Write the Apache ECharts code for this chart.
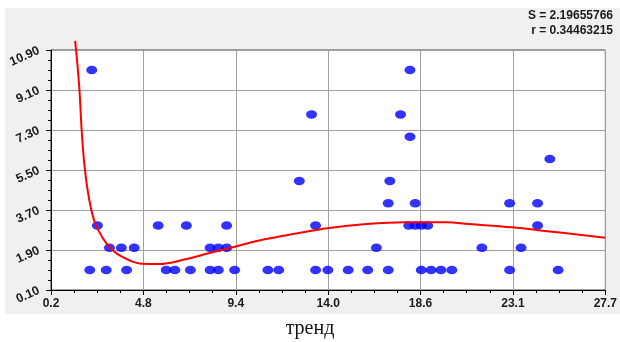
<!DOCTYPE html>
<html>
<head>
<meta charset="utf-8">
<script src="https://cdn.jsdelivr.net/npm/echarts@6/dist/echarts.min.js"></script>
<style>
  html, body { margin: 0; padding: 0; background: #ffffff; }
  #chart { width: 620px; height: 342px; }
</style>
</head>
<body>
<div id="chart"></div>
<script>
// Axis tick labels (seven evenly spaced ticks on each axis)
const xTickLabels = ['0.2', '4.8', '9.4', '14.0', '18.6', '23.1', '27.7'];
const yTickLabels = ['0.10', '1.90', '3.70', '5.50', '7.30', '9.10', '10.90'];

// Value extents spanned by those ticks
const xRange = [0.195, 27.735];
const yRange = [0.1, 10.9];

// Observations
const pointX = [2.22, 2.50, 3.10, 3.69, 4.33, 2.12, 2.94, 3.95, 5.52, 5.92,
                6.35, 6.92, 7.12, 8.10, 8.51, 8.92, 8.92, 8.10, 8.51, 9.32,
                10.97, 11.51, 12.53, 13.14, 13.34, 13.34, 13.95, 14.96, 15.93, 16.36,
                16.95, 16.95, 17.03, 17.56, 18.03, 18.03, 17.97, 18.29, 18.59, 18.91,
                18.29, 18.59, 19.08, 19.57, 20.11, 21.60, 22.98, 22.98, 23.55, 24.37,
                24.37, 24.98, 25.39];
const pointY = [10, 3, 2, 2, 2, 1, 1, 1, 3, 1,
                1, 3, 1, 2, 2, 2, 3, 1, 1, 1,
                1, 1, 5, 8, 3, 1, 1, 1, 1, 2,
                1, 4, 5, 8, 10, 7, 3, 3, 3, 3,
                4, 1, 1, 1, 1, 2, 4, 1, 2, 4,
                3, 6, 1];

// Trend curve
const curveX = [1.395, 1.591, 1.724, 1.872, 2.083, 2.363, 2.771, 3.347, 4.084, 4.738,
                5.559, 6.871, 8.017, 9.33, 10.805, 12.442, 13.917, 15.884, 17.85, 19.82,
                20.96, 23.095, 24.73, 27.73];
const curveY = [11.31, 9.33, 7.22, 5.58, 4.23, 3.17, 2.43, 1.82, 1.44, 1.28,
                1.27, 1.48, 1.75, 2.05, 2.38, 2.65, 2.88, 3.07, 3.15, 3.15,
                3.07, 2.92, 2.76, 2.45];

// Fit statistics
const statS = 'S = 2.19655766';
const statR = 'r = 0.34463215';
const xTitle = 'тренд';

const scatterData = pointX.map((x, i) => [x, pointY[i]]);
const curveData = curveX.map((x, i) => [x, curveY[i]]);

const labelFont = { fontFamily: 'Liberation Sans, Arial, sans-serif', fontWeight: 'bold', color: '#1a1a1a' };
const gridColor = '#a0a0a0';

const chart = echarts.init(document.getElementById('chart'), null, { renderer: 'canvas' });

chart.setOption({
  animation: false,
  backgroundColor: '#ffffff',
  grid: {
    left: 51, right: 9, top: 50, bottom: 52,
    show: true,
    backgroundColor: '#ffffff',
    borderColor: '#444444',
    borderWidth: 1
  },
  graphic: [
    {
      type: 'rect', z: -10, silent: true,
      shape: { x: 5, y: 8, width: 615, height: 306 },
      style: { fill: '#f0f0f0' }
    },
    {
      type: 'text', z: 10, right: 7, top: 10,
      style: { text: statS, font: 'bold 12px "Liberation Sans", Arial, sans-serif', fill: '#1a1a1a', textAlign: 'right' }
    },
    {
      type: 'text', z: 10, right: 7, top: 25,
      style: { text: statR, font: 'bold 12px "Liberation Sans", Arial, sans-serif', fill: '#1a1a1a', textAlign: 'right' }
    },
    {
      type: 'text', z: 10, left: 'center', top: 319,
      style: { text: xTitle, font: '20px "Liberation Serif", "Times New Roman", serif', fill: '#111111' }
    }
  ],
  xAxis: [
    {
      // tick / label axis
      type: 'value', position: 'bottom',
      min: 0, max: 6, interval: 1,
      axisLine: { show: true, onZero: false, lineStyle: { color: '#000000', width: 1 } },
      axisTick: { show: true, inside: false, length: 5, lineStyle: { color: '#000000' } },
      minorTick: { show: true, splitNumber: 4, length: 3, lineStyle: { color: '#000000' } },
      splitLine: { show: true, lineStyle: { color: gridColor, width: 1 } },
      axisLabel: Object.assign({
        fontSize: 12, margin: 8,
        showMinLabel: true, showMaxLabel: true,
        formatter: v => xTickLabels[Math.round(v)]
      }, labelFont)
    },
    {
      // data axis
      type: 'value', show: false, position: 'bottom',
      min: xRange[0], max: xRange[1],
      splitLine: { show: false }
    }
  ],
  yAxis: [
    {
      type: 'value', position: 'left',
      min: 0, max: 6, interval: 1,
      axisLine: { show: true, onZero: false, lineStyle: { color: '#000000', width: 1 } },
      axisTick: { show: true, inside: false, length: 5, lineStyle: { color: '#000000' } },
      minorTick: { show: true, splitNumber: 4, length: 3, lineStyle: { color: '#000000' } },
      splitLine: { show: true, lineStyle: { color: gridColor, width: 1 } },
      axisLabel: Object.assign({
        fontSize: 12.5, margin: 12, rotate: 24,
        showMinLabel: true, showMaxLabel: true,
        formatter: v => yTickLabels[Math.round(v)]
      }, labelFont)
    },
    {
      type: 'value', show: false, position: 'left',
      min: yRange[0], max: yRange[1],
      splitLine: { show: false }
    }
  ],
  series: [
    {
      type: 'scatter',
      xAxisIndex: 1, yAxisIndex: 1,
      symbol: 'circle',
      symbolSize: [11, 8.5],
      itemStyle: { color: '#0000ff' },
      data: scatterData,
      z: 3
    },
    {
      type: 'line',
      xAxisIndex: 1, yAxisIndex: 1,
      data: curveData,
      showSymbol: false,
      symbol: 'none',
      smooth: 0.4,
      clip: false,
      lineStyle: { color: '#ff0000', width: 2 },
      z: 4
    }
  ]
});
</script>
</body>
</html>
